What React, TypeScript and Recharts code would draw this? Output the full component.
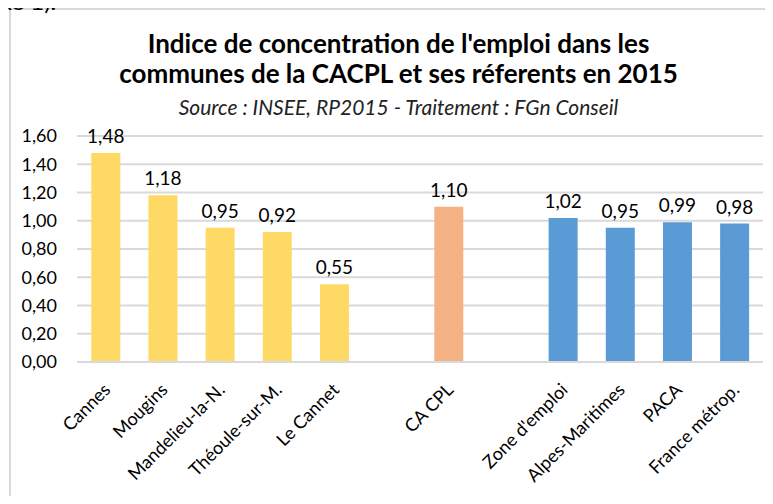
import React from 'react';
import { BarChart, Bar, XAxis, YAxis, CartesianGrid, Cell, LabelList } from 'recharts';

// empty names are the spacer slots between groups
const categories = ['Cannes', 'Mougins', 'Mandelieu-la-N.', 'Théoule-sur-M.', 'Le Cannet', '', 'CA CPL', '', "Zone d'emploi", 'Alpes-Maritimes', 'PACA', 'France métrop.'];
const values = [1.48, 1.18, 0.95, 0.92, 0.55, null, 1.1, null, 1.02, 0.95, 0.99, 0.98];
const groups = ['commune', 'commune', 'commune', 'commune', 'commune', '', 'epci', '', 'ref', 'ref', 'ref', 'ref'];
const yTicks = [0, 0.2, 0.4, 0.6, 0.8, 1.0, 1.2, 1.4, 1.6];

const colors: Record<string, string> = { commune: '#FFD966', epci: '#F4B183', ref: '#5B9BD5' };

const data = categories.map((name, i) => ({ name, value: values[i], group: groups[i] }));

const font = 'Lato, "Open Sans", sans-serif';
const fmt = (v: any) => (v == null ? '' : Number(v).toFixed(2).replace('.', ','));

const XTick = (props: any) => {
  const { x, y, payload } = props;
  if (!payload.value) return null;
  return (
    <text
      x={x + 6}
      y={y + 21}
      transform={`rotate(-45, ${x + 6}, ${y + 21})`}
      textAnchor="end"
      fontSize={18}
      fontFamily={font}
      fill="#000"
    >
      {payload.value}
    </text>
  );
};

export default function App() {
  return (
    <div style={{ position: 'relative', width: 773, height: 504, margin: -8, overflow: 'hidden', background: '#fff', fontFamily: font }}>
      <div style={{ position: 'absolute', left: 0, top: -11, fontSize: 24, lineHeight: '24px', color: '#000', zIndex: 2 }}>xe 1).</div>
      <div style={{ position: 'absolute', left: 9, top: 8, width: 800, height: 520, border: '2px solid #d9d9d9' }} />
      <div style={{ position: 'absolute', left: 0, width: 797, top: 28, textAlign: 'center', fontWeight: 700, fontSize: 26, lineHeight: '30px', color: '#000' }}>
        Indice de concentration de l'emploi dans les
        <br />
        communes de la CACPL et ses réferents en 2015
      </div>
      <div style={{ position: 'absolute', left: 0, width: 797, top: 94, textAlign: 'center', fontStyle: 'italic', fontSize: 21, color: '#222' }}>
        Source : INSEE, RP2015 - Traitement : FGn Conseil
      </div>
      <div style={{ position: 'absolute', left: 0, top: 0 }}>
        <BarChart width={773} height={504} data={data} margin={{ top: 136, right: 10, bottom: 0, left: 0 }} barCategoryGap="25%">
          <CartesianGrid vertical={false} stroke="#d9d9d9" strokeWidth={2} />
          <XAxis
            dataKey="name"
            interval={0}
            height={142}
            tickLine={false}
            axisLine={{ stroke: '#d9d9d9', strokeWidth: 2 }}
            tick={<XTick />}
          />
          <YAxis
            width={77}
            domain={[0, 1.6]}
            ticks={yTicks}
            tickFormatter={fmt}
            axisLine={false}
            tickLine={false}
            tickSize={0}
            tickMargin={20}
            tick={{ fontSize: 18, fill: '#000', fontFamily: font }}
          />
          <Bar dataKey="value" isAnimationActive={false}>
            {data.map((d, i) => (
              <Cell key={i} fill={colors[d.group] || '#fff'} />
            ))}
            <LabelList dataKey="value" position="top" offset={10} formatter={fmt} style={{ fontSize: 19, fill: '#000', fontFamily: font }} />
          </Bar>
        </BarChart>
      </div>
    </div>
  );
}
